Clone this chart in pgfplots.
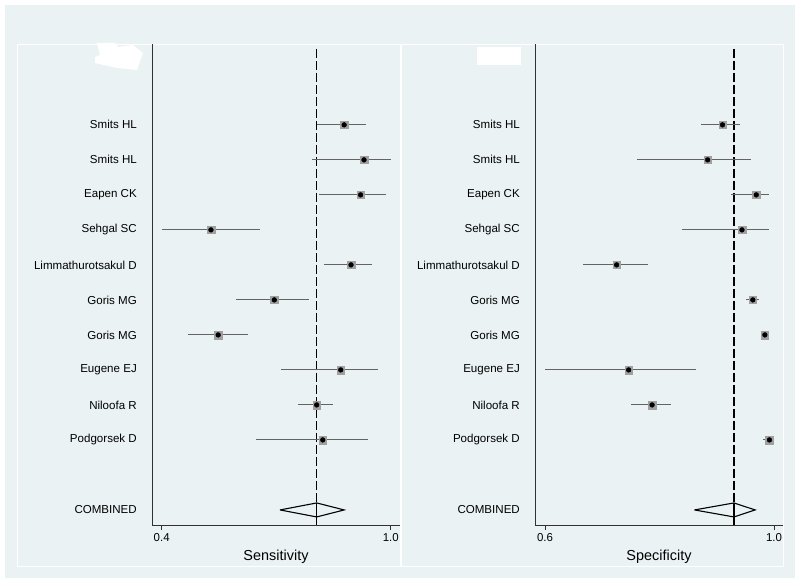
\documentclass[border=0pt]{standalone}
\usepackage{pgfplots}
\pgfplotsset{compat=1.18}
\usepackage{pgfplotstable}
\usepackage{fontspec}
\setmainfont{Liberation Sans}
\definecolor{bgc}{RGB}{234,242,243}
\definecolor{cig}{RGB}{100,100,100}
\definecolor{sqg}{RGB}{160,160,160}
\definecolor{axc}{RGB}{50,50,50}

\pgfplotstableread{
y x lo hi
11 0.878 0.806 0.935
10 0.930 0.795 1.000
9 0.921 0.812 0.988
8 0.529 0.400 0.657
7 0.896 0.826 0.950
6 0.695 0.594 0.786
5 0.548 0.470 0.626
4 0.869 0.713 0.967
3 0.806 0.758 0.849
2 0.822 0.647 0.941
}\sens

\pgfplotstableread{
y x lo hi
11 0.910 0.872 0.941
10 0.884 0.761 0.959
9 0.969 0.925 0.992
8 0.944 0.839 0.992
7 0.725 0.666 0.780
6 0.963 0.951 0.973
5 0.984 0.980 0.988
4 0.746 0.600 0.863
3 0.787 0.751 0.820
2 0.992 0.980 0.997
}\spec

\pgfplotsset{fp/.style={
  scale only axis, width=248bp, height=481bp,
  ymin=-0.43, ymax=13.31,
  axis x line*=bottom, axis y line*=left,
  axis line style={axc, line width=0.9bp},
  ytick={0,2,3,4,5,6,7,8,9,10,11},
  yticklabels={COMBINED, Podgorsek D, Niloofa R, Eugene EJ, Goris MG, Goris MG, Limmathurotsakul D, Sehgal SC, Eapen CK, Smits HL, Smits HL},
  ytick style={draw=none},
  yticklabel style={font=\fontsize{11.6}{13}\selectfont, anchor=east, inner sep=0pt, xshift=-10bp},
  tick align=outside, major tick length=5bp,
  xtick style={axc, line width=0.9bp},
  xticklabel style={font=\fontsize{11.5}{13}\selectfont},
  /pgf/number format/.cd, fixed, fixed zerofill, precision=1, assume math mode=true, /pgfplots/.cd,
  xlabel style={font=\fontsize{14.5}{16}\selectfont, yshift=-2bp},
  clip=false,
}}

\begin{document}
\begin{tikzpicture}[x=1bp,y=1bp]
\useasboundingbox (0,0) rectangle (800,582);
\fill[white] (0,0) rectangle (800,582);
\fill[bgc] (5,4) rectangle (795,577);
\filldraw[fill=bgc, draw=white, line width=0.8bp] (17,16) rectangle (400,538);
\filldraw[fill=bgc, draw=white, line width=0.8bp] (401,16) rectangle (783,538);
\fill[white] (97,539) -- (115,539) -- (118,535) -- (133,537) -- (143,529) -- (137,512) -- (117,514) -- (95,519) -- (95,525) -- (100,527) -- cycle;
\fill[white] (477,535) rectangle (521,517);

\begin{axis}[fp, at={(152bp,57bp)}, anchor=south west,
  xmin=0.3746, xmax=1.0243, xtick={0.4,1.0}, xlabel={Sensitivity}]
  \addplot[black, line width=1.3bp, dash pattern=on 9bp off 3bp] coordinates {(0.806,13.17) (0.806,0.2)};
  \addplot[only marks, mark=none, error bars/.cd, x dir=both, x explicit, error mark=none,
    error bar style={cig, line width=1bp}]
    table[x=x, y=y, x error minus expr=\thisrow{x}-\thisrow{lo}, x error plus expr=\thisrow{hi}-\thisrow{x}] {\sens};
  \addplot[only marks, mark=square*, mark size=3.8bp, mark options={fill=sqg, draw=sqg}] table[x=x, y=y] {\sens};
  \addplot[only marks, mark=*, mark size=2.4bp, black] table[x=x, y=y] {\sens};
  \addplot[black, line width=1.1bp, line join=miter] coordinates {(0.710,0) (0.806,0.2) (0.878,0) (0.806,-0.2) (0.710,0)};
  \addplot[black, line width=1.3bp] coordinates {(0.806,0.2) (0.806,-0.43)};
\end{axis}

\begin{axis}[fp, at={(535bp,57bp)}, anchor=south west,
  xmin=0.5825, xmax=1.0157, xtick={0.6,1.0}, xlabel={Specificity}]
  \addplot[black, line width=1.3bp, dash pattern=on 9bp off 3bp] coordinates {(0.930,13.17) (0.930,0.2)};
  \addplot[only marks, mark=none, error bars/.cd, x dir=both, x explicit, error mark=none,
    error bar style={cig, line width=1bp}]
    table[x=x, y=y, x error minus expr=\thisrow{x}-\thisrow{lo}, x error plus expr=\thisrow{hi}-\thisrow{x}] {\spec};
  \addplot[only marks, mark=square*, mark size=3.8bp, mark options={fill=sqg, draw=sqg}] table[x=x, y=y] {\spec};
  \addplot[only marks, mark=*, mark size=2.4bp, black] table[x=x, y=y] {\spec};
  \addplot[black, line width=1.1bp, line join=miter] coordinates {(0.861,0) (0.930,0.2) (0.967,0) (0.930,-0.2) (0.861,0)};
  \addplot[black, line width=1.3bp] coordinates {(0.930,0.2) (0.930,-0.43)};
\end{axis}
\end{tikzpicture}
\end{document}
